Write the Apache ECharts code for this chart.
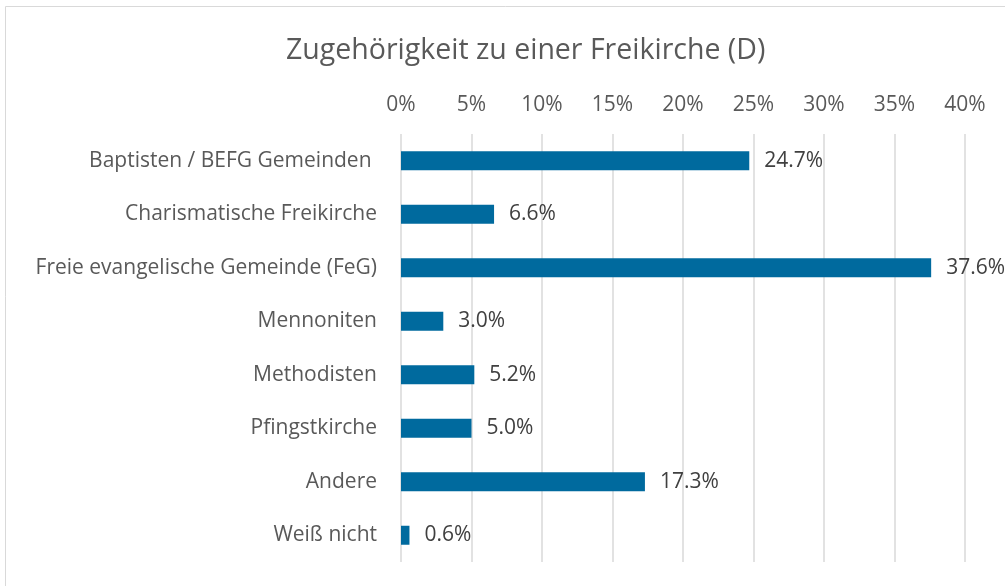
<!DOCTYPE html>
<html>
<head>
<meta charset="utf-8">
<script src="https://cdn.jsdelivr.net/npm/echarts@6/dist/echarts.min.js"></script>
<style>
  html, body { margin: 0; padding: 0; background: #fff; }
  #main { width: 1005px; height: 586px; }
</style>
</head>
<body>
<div id="main"></div>
<script>
  // Daten
  var categories = ['Baptisten / BEFG Gemeinden ', 'Charismatische Freikirche', 'Freie evangelische Gemeinde (FeG)',
                    'Mennoniten', 'Methodisten', 'Pfingstkirche', 'Andere', 'Weiß nicht'];
  var values = [24.7, 6.6, 37.6, 3.0, 5.2, 5.0, 17.3, 0.6];
  var tickMin = 0, tickMax = 40, tickStep = 5;

  var myChart = echarts.init(document.getElementById('main'));
  var font = 'Open Sans';
  var option = {
    textStyle: { fontFamily: font },
    graphic: [{
      type: 'rect',
      shape: { x: 5.5, y: 6.5, width: 1100, height: 700 },
      style: { fill: 'none', stroke: '#d9d9d9', lineWidth: 1 },
      silent: true
    }],
    title: {
      text: 'Zugehörigkeit zu einer Freikirche (D)',
      left: 281,
      top: 31,
      textStyle: { fontFamily: font, fontSize: 28.5, fontWeight: 'normal', color: '#595959' }
    },
    grid: { left: 401, right: 40, top: 134, bottom: 24 },
    xAxis: {
      type: 'value',
      position: 'top',
      min: tickMin,
      max: tickMax,
      interval: tickStep,
      axisLine: { show: false },
      axisTick: { show: false },
      axisLabel: { formatter: '{value}%', fontSize: 21, color: '#595959', margin: 18 },
      splitLine: { lineStyle: { color: '#d9d9d9', width: 1.5 } }
    },
    yAxis: {
      type: 'category',
      inverse: true,
      data: categories,
      axisLine: { show: false },
      axisTick: { show: false },
      axisLabel: { fontSize: 21, color: '#595959', margin: 24, padding: [4, 0, 0, 0] }
    },
    series: [{
      type: 'bar',
      data: values,
      barWidth: 19,
      itemStyle: { color: '#006a9e' },
      label: {
        show: true,
        position: 'right',
        distance: 15,
        fontSize: 21,
        color: '#404040',
        padding: [4, 0, 0, 0],
        formatter: function (p) { return p.value.toFixed(1) + '%'; }
      }
    }]
  };
  myChart.setOption(option);
</script>
</body>
</html>
